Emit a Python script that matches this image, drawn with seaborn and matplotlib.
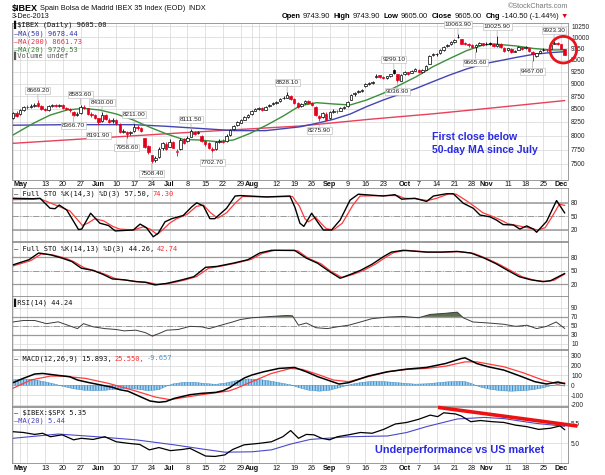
import numpy as np
import pandas as pd
import seaborn as sns
import matplotlib.pyplot as plt
from matplotlib.patches import Ellipse

W, H = 605, 475

# trading days shown (Madrid closed on May 1)
days = pd.bdate_range('2013-04-29', '2013-12-03')
days = days[days != pd.Timestamp('2013-05-01')]

# daily candles, one row per week
opens = [8330, 8420, 8400, 8470,
         8540, 8530, 8560, 8620, 8560,
         8500, 8470, 8550, 8580, 8560,
         8570, 8510, 8490, 8440, 8390,
         8420, 8540, 8510, 8400, 8380,
         8320, 8260, 8380, 8290, 8260,
         8290, 8220, 8070, 8060, 8040,
         8080, 8150, 8140, 7950, 7810,
         7650, 7560, 7620, 7770, 7850,
         7800, 7880, 7700, 7760, 7930,
         7900, 7980, 8070, 8050, 8000,
         7900, 7860, 7760, 7760, 7880,
         7900, 7900, 8010, 8120, 8190,
         8240, 8290, 8340, 8400, 8460,
         8500, 8510, 8480, 8550, 8590,
         8620, 8650, 8710, 8720, 8760,
         8700, 8620, 8560, 8610, 8660,
         8610, 8540, 8360, 8340, 8410,
         8330, 8440, 8460, 8460, 8510,
         8560, 8680, 8790, 8840, 8860,
         8960, 9000, 9010, 9140, 9170,
         9130, 9110, 9150, 9280, 9200,
         9060, 9200, 9240, 9230, 9270,
         9290, 9250, 9290, 9420, 9600,
         9620, 9640, 9720, 9800, 9840,
         9890, 10010, 9960, 9880, 9860,
         9830, 9780, 9830, 9870, 9850,
         9870, 9840, 9810, 9860, 9760,
         9720, 9740, 9680, 9720, 9780,
         9760, 9770, 9680, 9580, 9650,
         9710, 9720, 9740, 9850, 9880,
         9850, 9743.9]
highs = [8440, 8450, 8490, 8560,
         8580, 8590, 8610, 8669.2, 8580,
         8520, 8570, 8600, 8600, 8590,
         8590, 8540, 8520, 8450, 8440,
         8583.6, 8570, 8520, 8430, 8410,
         8330, 8430, 8400, 8320, 8320,
         8310, 8230, 8120, 8090, 8090,
         8211, 8190, 8160, 7960, 7830,
         7660, 7640, 7790, 7890, 7880,
         7930, 7900, 7760, 7950, 7950,
         7990, 8111.5, 8080, 8090, 8010,
         7920, 7880, 7790, 7900, 7930,
         7930, 8020, 8120, 8200, 8270,
         8300, 8360, 8410, 8480, 8520,
         8540, 8530, 8560, 8600, 8640,
         8660, 8720, 8760, 8828.1, 8770,
         8720, 8640, 8620, 8680, 8680,
         8630, 8550, 8380, 8440, 8430,
         8450, 8490, 8480, 8530, 8560,
         8650, 8800, 8840, 8880, 8900,
         9010, 9040, 9060, 9190, 9180,
         9160, 9160, 9210, 9299.1, 9210,
         9190, 9260, 9250, 9290, 9320,
         9310, 9310, 9390, 9600, 9650,
         9660, 9740, 9810, 9850, 9910,
         9970, 10063.9, 9970, 9900, 9880,
         9850, 9840, 9900, 9880, 9890,
         9900, 9870, 10025.9, 9870, 9780,
         9770, 9750, 9720, 9800, 9790,
         9810, 9780, 9690, 9660, 9720,
         9750, 9740, 9850, 9923.3, 9890,
         9860, 9743.9]
lows = [8300, 8340, 8380, 8450,
        8500, 8510, 8540, 8540, 8480,
        8450, 8460, 8530, 8530, 8540,
        8490, 8470, 8440, 8366.7, 8370,
        8410, 8490, 8390, 8350, 8300,
        8191.9, 8250, 8280, 8230, 8240,
        8200, 8040, 8040, 7958.6, 8010,
        8070, 8110, 8060, 7780, 7670,
        7508.4, 7540, 7600, 7750, 7740,
        7790, 7770, 7640, 7740, 7840,
        7880, 7970, 8010, 8030, 7880,
        7820, 7760, 7702.7, 7740, 7860,
        7860, 7890, 7990, 8100, 8180,
        8230, 8280, 8330, 8390, 8450,
        8480, 8450, 8470, 8540, 8580,
        8600, 8640, 8690, 8710, 8680,
        8600, 8520, 8540, 8600, 8590,
        8560, 8360, 8275.9, 8330, 8280,
        8310, 8420, 8420, 8450, 8490,
        8530, 8670, 8750, 8820, 8840,
        8940, 8970, 8990, 9120, 9110,
        9090, 9090, 9140, 9210, 9036.9,
        9050, 9180, 9180, 9220, 9260,
        9230, 9230, 9280, 9410, 9590,
        9590, 9620, 9700, 9780, 9820,
        9870, 9980, 9840, 9820, 9790,
        9760, 9665.6, 9820, 9810, 9820,
        9830, 9780, 9790, 9760, 9680,
        9700, 9660, 9670, 9710, 9720,
        9740, 9680, 9467, 9560, 9640,
        9690, 9680, 9730, 9840, 9830,
        9730, 9605]
closes = [8420, 8370, 8470, 8540,
          8530, 8560, 8580, 8560, 8500,
          8470, 8550, 8580, 8560, 8570,
          8510, 8490, 8480, 8390, 8400,
          8540, 8520, 8400, 8380, 8320,
          8250, 8390, 8300, 8250, 8290,
          8230, 8060, 8090, 8020, 8060,
          8150, 8140, 8080, 7800, 7700,
          7553, 7600, 7760, 7860, 7762,
          7890, 7780, 7730, 7920, 7860,
          7960, 8080, 8030, 8060, 7900,
          7840, 7780, 7740, 7880, 7900,
          7880, 8000, 8100, 8180, 8250,
          8280, 8340, 8380, 8460, 8500,
          8520, 8470, 8540, 8580, 8620,
          8640, 8700, 8720, 8780, 8700,
          8620, 8540, 8600, 8650, 8620,
          8580, 8380, 8330, 8420, 8290,
          8430, 8460, 8450, 8510, 8530,
          8640, 8780, 8820, 8860, 8880,
          9000, 9010, 9040, 9160, 9130,
          9120, 9150, 9190, 9230, 9080,
          9170, 9240, 9200, 9270, 9300,
          9250, 9290, 9370, 9580, 9620,
          9630, 9720, 9790, 9830, 9890,
          9950, 10000, 9860, 9850, 9820,
          9790, 9820, 9880, 9830, 9860,
          9860, 9800, 9860, 9780, 9700,
          9750, 9680, 9700, 9780, 9740,
          9790, 9690, 9620, 9640, 9700,
          9720, 9710, 9830, 9880, 9850,
          9745.4, 9605]

# moving averages (day index, value)
ma50_x = [0, 15, 34, 43, 52.5, 62, 71, 80.6, 85.3, 90, 94.7, 99.3, 104, 108.7, 113.3, 118, 122.7, 127.4, 132.1, 136.8, 141.5, 146.2, 150.9, 155]
ma50_y = [8190, 8200, 8200, 8170, 8130, 8090, 8090, 8160, 8225, 8300, 8400, 8542, 8672, 8790, 8905, 9043, 9180, 9305, 9413, 9483, 9555, 9620, 9657, 9678.44]
ma200_x = [0, 25, 50, 80.6, 100, 118, 135, 155]
ma200_y = [7860, 7960, 8060, 8175, 8300, 8405, 8520, 8661.73]
ma20_x = [0, 5.7, 10.4, 15.1, 19.8, 24.4, 29.1, 33.8, 38.5, 43.2, 47.8, 52.5, 57.2, 61.9, 66.6, 71.3, 75.9, 80.6, 85.3, 90, 94.7, 99.3, 104, 108.7, 113.3, 118, 122.7, 127.4, 132.1, 134.9, 141.5, 146.2, 150.9, 155]
ma20_y = [8010, 8225, 8380, 8477, 8510, 8477, 8400, 8287, 8150, 8028, 7930, 7919, 7890, 7919, 8040, 8193, 8362, 8560, 8620, 8595, 8575, 8672, 8806, 8975, 9145, 9355, 9530, 9700, 9827, 9850, 9804, 9750, 9716, 9720.53]

# swing labels (day index, value, high/low)
swing_i = [7, 17, 19, 24, 25, 32, 34, 39, 50, 56, 77, 86, 107, 108, 125, 130, 136, 146, 152]
swing_v = [8669.2, 8366.7, 8583.6, 8191.9, 8430.0, 7958.6, 8211.0, 7508.4, 8111.5, 7702.7, 8828.1, 8275.9, 9299.1, 9036.9, 10063.9, 9665.6, 10025.9, 9467.0, 9923.3]
swing_hl = ['h', 'l', 'h', 'l', 'h', 'l', 'h', 'l', 'h', 'l', 'h', 'l', 'h', 'l', 'h', 'l', 'h', 'l', 'h']

# Full STO (14,3)
stok_x = [0, 5.7, 7.6, 10.4, 11.8, 13, 15.1, 18.4, 19.3, 21.8, 24.4, 26.8, 28.7, 33.8, 35.7, 37.5, 39.4, 40.8, 42.7, 44.6, 47.8, 50.2, 51.6, 53.5, 55.3, 56.7, 60, 62.4, 63.8, 71.3, 77.8, 79.2, 80.6, 81.7, 83.9, 85.8, 87.2, 89.5, 91.9, 94.7, 97, 104, 107.3, 109.2, 112.9, 116.2, 118.1, 121.8, 123.7, 126.5, 129.3, 131.2, 134, 135.8, 137.7, 140.6, 142.4, 144.3, 146.2, 147.1, 149.9, 152.7, 155]
stok_y = [90, 89, 90, 68, 67, 75, 64, 21, 22, 57, 35, 30, 18, 20, 33, 25, 5, 13, 38, 45, 52, 71, 80, 73, 45, 45, 68, 95, 96, 93, 95, 70, 35, 28, 57, 35, 20, 20, 42, 86, 99, 95, 98, 88, 90, 83, 95, 100, 100, 79, 68, 53, 49, 42, 32, 31, 22, 29, 22, 15, 39, 85, 57.5]
stod_x = [0, 5.7, 7.6, 11, 13.5, 16, 19.5, 21, 23, 25.5, 28, 30, 34, 36.5, 38.5, 40.5, 42, 44, 46, 49, 51.5, 53.5, 55.5, 57.5, 60, 62.5, 64.5, 71, 78.5, 80.5, 82, 83, 85, 86.5, 88, 90, 92.5, 95.5, 97.5, 104, 108, 110, 113, 116.5, 119, 122.5, 124.5, 127.5, 130, 132, 135, 137, 139, 141.5, 144, 147.5, 149.5, 151.5, 153.5, 155]
stod_y = [87, 88, 89, 78, 70, 62, 30, 35, 45, 40, 28, 22, 20, 27, 22, 10, 20, 35, 45, 55, 72, 75, 58, 46, 58, 80, 94, 93, 94, 72, 45, 38, 48, 35, 23, 20, 35, 75, 95, 96, 96, 90, 89, 85, 90, 100, 99, 84, 70, 58, 49, 42, 34, 30, 26, 20, 25, 50, 77, 74.3]

# Full STO (14,13)
slowk_x = [0, 4.5, 7.2, 10.5, 13.8, 16.5, 19.2, 22.5, 25.2, 27.9, 31.2, 34.5, 37.2, 39.9, 43.2, 47.5, 50.8, 54.1, 57.3, 61.7, 66, 69.3, 72.6, 79.1, 82.4, 85.6, 88.9, 91.9, 94.9, 97.6, 100.9, 104.1, 106.3, 109.6, 116.1, 120.5, 124.8, 128.6, 132.4, 135.7, 139, 142.2, 145.5, 148.8, 151, 154.2, 155]
slowk_y = [63.5, 75, 90, 86, 78.5, 71, 56, 51, 42.5, 32, 30, 26, 24.5, 18.5, 22, 30, 37, 58, 60, 67, 75, 90, 96, 96, 78.5, 67, 48.5, 33.5, 42.5, 51, 65, 82, 92, 96, 92, 92, 93.5, 90, 78.5, 66, 51, 37, 30, 26, 28, 41, 44.26]
slowd_x = [0, 5, 8, 11, 14.5, 17, 20, 23, 26, 29, 32, 35, 38, 40.5, 44, 48, 51.5, 55, 58, 62.5, 67, 70, 73.5, 80, 83, 86.5, 89.5, 92.5, 95.5, 98.5, 102, 105, 107, 110.5, 117, 121, 125.5, 129.5, 133, 136.5, 140, 143, 146.5, 149.5, 152, 155]
slowd_y = [61, 73, 88, 86, 79, 71, 57, 50, 42, 32, 29, 26, 24, 20, 22, 29, 37, 56, 60, 67, 76, 89, 96, 95, 78, 66, 48, 35, 42, 51, 66, 82, 91, 96, 92, 92, 93, 89, 78, 65, 50, 37, 29, 26, 29, 42.74]

# RSI(14)
rsi_x = [0, 2.9, 6.1, 9.4, 12.7, 15.4, 18.1, 19.8, 22.5, 25.8, 29, 31.2, 34.5, 37.2, 39.1, 41, 43.2, 46.4, 49.7, 53, 55.1, 58.4, 61.7, 63.8, 67.1, 72.6, 76.9, 78.5, 80.2, 82.4, 85.1, 88.3, 91.1, 94.3, 97.6, 100.8, 105.2, 109.6, 113.9, 117.2, 121.5, 124.8, 126.5, 129.2, 133.5, 137.9, 141.2, 144.4, 147.1, 149.9, 152.6, 155]
rsi_y = [58.7, 62, 62, 55, 59, 51.5, 44, 55, 48, 44, 42, 39, 40.5, 35, 27.5, 33, 40.5, 42, 49, 48, 44, 51.5, 58.7, 64, 68, 71, 73, 72.5, 51.5, 56.5, 46, 44, 48, 51.5, 58.7, 66, 69.6, 71, 68, 75.5, 78, 80.5, 68, 58.7, 56.5, 53.6, 49, 51.5, 44, 49, 58.7, 44.24]

# MACD(12,26,9)
macd_x = [0, 2.9, 6.1, 8.3, 12.7, 15.9, 18.1, 21.4, 24.7, 27.9, 30, 32.3, 36, 38.5, 41, 43, 45.3, 49.7, 53, 57, 59, 61, 63, 65, 67.1, 70.4, 74.7, 79.1, 82.4, 85.6, 88.9, 91.6, 94.3, 99.8, 105.2, 110.6, 116.1, 121.5, 125.9, 127, 130.3, 133.5, 137.9, 142.2, 146.6, 149.9, 153.1, 155]
macd_y = [27, 71, 115, 121, 101, 88, 54, 27, 3, -20, -45, -60, -120, -160, -173, -165, -133, -96, -82, -72, -55, -20, 30, 75, 105, 138, 172, 182, 138, 88, 47, 13, 27, 94, 138, 165, 182, 222, 273, 280, 222, 189, 155, 98, 37, 13, 34, 15.893]
sig_x = [0, 5, 10.5, 13.8, 20.3, 26.8, 33.4, 36, 40, 44.2, 48.6, 55.1, 60.6, 62.8, 67.1, 72.6, 78, 81.3, 85.6, 90, 94.3, 99.8, 105.2, 110.6, 116.1, 121.5, 127, 130.3, 137.9, 143.3, 148.8, 153.1, 155]
sig_y = [-30, 54, 94, 94, 71, 20, -47, -75, -120, -147, -120, -85, -58, -30, 37, 121, 172, 162, 111, 54, 37, 88, 138, 162, 172, 195, 239, 239, 189, 128, 54, 13, 25.55]
hist_x = [0, 3, 6, 9, 12, 14, 17, 20, 23, 26, 29, 32, 35, 38, 41, 43, 45, 48, 51, 54, 57, 60, 63, 66, 69, 72, 75, 78, 80, 83, 86, 89, 92, 95, 98, 101, 104, 107, 110, 113, 116, 119, 122, 125, 127, 129, 131, 134, 137, 140, 143, 146, 149, 151, 153, 155]
hist_y = [55, 65, 55, 35, 10, -10, -35, -50, -55, -50, -40, -30, -40, -55, -45, -10, 15, 30, 30, 18, 10, 25, 50, 65, 60, 45, 25, 5, -20, -50, -60, -50, -20, 10, 30, 40, 38, 30, 20, 12, 15, 25, 35, 40, 38, 15, -15, -40, -55, -60, -55, -45, -25, -5, 8, -9.657]

# $IBEX:$SPX ratio and its MA(20)
ratio_x = [0, 2.9, 6.1, 8.3, 10.5, 13.8, 17, 19.2, 22.5, 25.8, 29, 32.3, 35.6, 38.3, 41, 44.2, 47.5, 49.7, 51.9, 54.1, 56.8, 59.5, 61.7, 64.9, 69.3, 72.6, 75.8, 78, 80.2, 82.4, 84.5, 86.7, 88.9, 91.1, 94.3, 97.6, 100.9, 104.1, 107.4, 110.6, 113.9, 117.2, 119.3, 121, 124.3, 125.9, 128.6, 131.3, 134.6, 137.9, 141.2, 144.4, 147.7, 151, 153.7, 155]
ratio_y = [5.30, 5.28, 5.23, 5.26, 5.17, 5.22, 5.09, 5.13, 5.10, 5.17, 5.04, 5.00, 4.97, 4.83, 4.89, 4.81, 4.84, 4.87, 4.77, 4.67, 4.66, 4.70, 4.84, 4.96, 5.00, 5.04, 5.17, 5.33, 5.13, 5.23, 5.22, 5.13, 5.09, 5.17, 5.22, 5.28, 5.26, 5.36, 5.50, 5.54, 5.62, 5.73, 5.69, 5.79, 5.76, 5.71, 5.56, 5.59, 5.56, 5.54, 5.47, 5.43, 5.36, 5.39, 5.45, 5.35]
rma_x = [0, 12.7, 23.6, 34.5, 45.3, 54.1, 59.5, 67.1, 72.6, 78, 83.5, 94.3, 105.2, 110.6, 116.1, 124.8, 132.4, 137.9, 146.6, 155]
rma_y = [5.13, 5.24, 5.17, 5.09, 4.96, 4.84, 4.77, 4.78, 4.83, 4.98, 5.10, 5.17, 5.19, 5.28, 5.43, 5.63, 5.67, 5.64, 5.52, 5.44]
trend_x = [119.4, 158.6]
trend_y = [5.93, 5.447]

# date axis
tick_dates = ['2013-05-02', '2013-05-13', '2013-05-20', '2013-05-27', '2013-06-03', '2013-06-10',
              '2013-06-17', '2013-06-24', '2013-07-01', '2013-07-08', '2013-07-15', '2013-07-22',
              '2013-07-29', '2013-08-01', '2013-08-12', '2013-08-19', '2013-08-26', '2013-09-02',
              '2013-09-09', '2013-09-16', '2013-09-23', '2013-10-01', '2013-10-07', '2013-10-14',
              '2013-10-21', '2013-10-28', '2013-11-01', '2013-11-11', '2013-11-18', '2013-11-25',
              '2013-12-02']
tick_labels = ['May', '13', '20', '27', 'Jun', '10', '17', '24', 'Jul', '8', '15', '22', '29', 'Aug',
               '12', '19', '26', 'Sep', '9', '16', '23', 'Oct', '7', '14', '21', '28', 'Nov', '11',
               '18', '25', 'Dec']
months = ['May', 'Jun', 'Jul', 'Aug', 'Sep', 'Oct', 'Nov', 'Dec']

sns.set_style('white')
plt.rcParams['font.family'] = ['Liberation Sans', 'DejaVu Sans']
plt.rcParams['hatch.linewidth'] = 0.7

fig = plt.figure(figsize=(W / 100, H / 100), dpi=100)
X0, X1 = 11.7, 568.3
GRID = '#d6d6d6'
MONO = 'DejaVu Sans Mono'

tick_idx = [days.get_loc(pd.Timestamp(d)) for d in tick_dates]
mondays = list(np.where(days.dayofweek == 0)[0])
firsts = list(pd.Series(np.arange(len(days)), index=days).groupby(days.month).first().values)
vgrid = sorted(set(mondays + firsts))


def panel(top, bottom, ylim, yticks, ylabels, log=False):
    ax = fig.add_axes([X0 / W, 1 - bottom / H, (X1 - X0) / W, (bottom - top) / H])
    if log:
        ax.set_yscale('log')
    ax.set_xlim(-0.37, 156.0)
    ax.set_ylim(*ylim)
    for g in vgrid:
        ax.axvline(g, color=GRID, lw=0.5, zorder=0)
    for t in yticks:
        ax.axhline(t, color=GRID, lw=0.5, zorder=0)
    ax.yaxis.tick_right()
    ax.set_yticks(yticks)
    ax.set_yticklabels(ylabels)
    ax.yaxis.set_minor_locator(plt.NullLocator())
    ax.tick_params(axis='y', length=0, pad=2, labelsize=4.7, labelcolor='#222222')
    ax.set_xticks([])
    for s in ax.spines.values():
        s.set_color('#8a8a8a')
        s.set_linewidth(0.6)
    return ax


def date_axis(ax):
    ax.set_xticks(tick_idx)
    ax.set_xticklabels(tick_labels)
    ax.tick_params(axis='x', length=0, pad=1.2, labelsize=5.2, labelcolor='#111111')
    for lab in ax.get_xticklabels():
        if lab.get_text() in months:
            lab.set_fontweight('bold')


def run_text(x, y, parts, size, family=None, ha='left'):
    r = fig.canvas.get_renderer()
    arts, widths = [], []
    for s, c, w, gap in parts:
        t = fig.text(0, 1 - y / H, s, color=c, fontsize=size, fontweight=w,
                     family=family, va='center', ha='left', parse_math=False)
        arts.append(t)
        widths.append(t.get_window_extent(r).width + gap)
    if ha == 'right':
        x = x - sum(widths)
    for t, wd in zip(arts, widths):
        t.set_x(x / W)
        x += wd


# ---- price panel ----
price_ticks = list(range(7500, 10251, 250))
ax = panel(22.7, 179.5, (7240, 10337), price_ticks, [str(p) for p in price_ticks], log=True)
idx = np.arange(len(closes))
o, h, l, c = map(np.array, (opens, highs, lows, closes))
prev = np.r_[o[0], c[:-1]]
col = np.where(c < prev, '#e3001b', '#000000')
face = np.where(c < o, col, '#ffffff')
ax.vlines(idx, l, h, colors=col, lw=0.6, zorder=3)
ax.bar(idx, np.maximum(np.abs(c - o), 4), bottom=np.minimum(o, c), width=0.7,
       color=face, edgecolor=col, linewidth=0.5, zorder=4)
sns.lineplot(x=ma200_x, y=ma200_y, ax=ax, color='#e8415a', lw=1.0, zorder=2)
sns.lineplot(x=ma50_x, y=ma50_y, ax=ax, color='#4444b4', lw=1.0, zorder=2)
sns.lineplot(x=ma20_x, y=ma20_y, ax=ax, color='#3a8f3a', lw=1.0, zorder=2)
for si, sv, hl in zip(swing_i, swing_v, swing_hl):
    off = 10 if hl == 'h' else -10
    ax.annotate(f'{sv:.2f}', (si, sv), xytext=(0, off), textcoords='offset pixels',
                ha='center', va='center', fontsize=4.6, color='#222222',
                bbox=dict(boxstyle='square,pad=0.15', fc='white', ec='#b5b5b5', lw=0.4),
                arrowprops=dict(arrowstyle='-', color='#999999', lw=0.4, shrinkA=0, shrinkB=0),
                zorder=6)
ax.set_ylabel('')
ax.set_xlabel('')
date_axis(ax)
ax.text(0.756, 0.27, 'First close below', transform=ax.transAxes, color='#2a2ae6',
        fontsize=7.6, fontweight='bold', ha='left', va='center')
ax.text(0.756, 0.185, '50-day MA since July', transform=ax.transAxes, color='#2a2ae6',
        fontsize=7.6, fontweight='bold', ha='left', va='center')
fig.add_artist(Ellipse((563.3 / W, 1 - 49.7 / H), 26.6 / W, 26.6 / H, fill=False,
                       ec='#e8141e', lw=2.0))

# ---- STO 14,3 ----
ax1 = panel(188, 241, (-4.3, 112.7), [20, 50, 80], ['20', '50', '80'])
for v in (20, 80):
    ax1.axhline(v, color='#9a9a9a', lw=1.1, zorder=1)
ax1.axhline(50, color='#9a9a9a', lw=0.7, ls='-.', zorder=1)
sns.lineplot(x=stod_x, y=stod_y, ax=ax1, color='#ff3b3b', lw=0.9)
sns.lineplot(x=stok_x, y=stok_y, ax=ax1, color='#000000', lw=1.0)

# ---- STO 14,13 ----
ax2 = panel(242, 296, (-6.2, 114.6), [20, 50, 80], ['20', '50', '80'])
for v in (20, 80):
    ax2.axhline(v, color='#9a9a9a', lw=0.9, zorder=1)
ax2.axhline(50, color='#9a9a9a', lw=0.7, ls='-.', zorder=1)
sns.lineplot(x=slowd_x, y=slowd_y, ax=ax2, color='#ff3b3b', lw=0.9)
sns.lineplot(x=slowk_x, y=slowk_y, ax=ax2, color='#000000', lw=1.0)

# ---- RSI ----
ax3 = panel(296, 349, (-1.3, 116.4), [10, 30, 50, 70, 90], ['10', '30', '50', '70', '90'])
for v in (30, 70):
    ax3.axhline(v, color='#9a9a9a', lw=0.9, zorder=1)
ax3.axhline(50, color='#9a9a9a', lw=0.7, ls='-.', zorder=1)
rx, ry = np.array(rsi_x), np.array(rsi_y)
ax3.fill_between(rx, 70, ry, where=ry > 70, interpolate=True, color='#5e6f52', lw=0)
ax3.fill_between(rx, 30, ry, where=ry < 30, interpolate=True, color='#d23b3b', lw=0)
sns.lineplot(x=rsi_x, y=rsi_y, ax=ax3, color='#3c3c3c', lw=0.7)

# ---- MACD ----
ax4 = panel(350, 406, (-211, 360), [-200, -100, 0, 100, 200, 300],
            ['-200', '-100', '0', '100', '200', '300'])
ax4.fill_between(hist_x, 0, hist_y, facecolor='#a8d2ee', edgecolor='#3b8cc8',
                 hatch='||||||', lw=0.3, zorder=1)
sns.lineplot(x=sig_x, y=sig_y, ax=ax4, color='#ff3b3b', lw=0.9)
sns.lineplot(x=macd_x, y=macd_y, ax=ax4, color='#000000', lw=1.1)

# ---- ratio vs SPX ----
ax5 = panel(407, 463, (4.49, 5.94), [5.0, 5.5], ['5.0', '5.5'])
sns.lineplot(x=rma_x, y=rma_y, ax=ax5, color='#4a4acb', lw=0.8)
sns.lineplot(x=ratio_x, y=ratio_y, ax=ax5, color='#000000', lw=0.9)
ax5.plot(trend_x, trend_y, color='#ee1111', lw=2.6, solid_capstyle='butt', clip_on=False, zorder=7)
date_axis(ax5)
ax5.text(0.653, 0.23, 'Underperformance vs US market', transform=ax5.transAxes,
         color='#2a2ae6', fontsize=7.8, fontweight='bold', ha='left', va='center')

# ---- header and legends ----
run_text(11.5, 8, [('$IBEX', '#000000', 'bold', 3)], 6.5)
run_text(40, 8, [('Spain Bolsa de Madrid IBEX 35 Index (EOD)', '#111111', 'normal', 3),
                 ('INDX', '#111111', 'normal', 0)], 5.3)
fig.text(12 / W, 1 - 16 / H, '3-Dec-2013', fontsize=5.2, va='center', color='#111111')
fig.text(568 / W, 1 - 7 / H, '\u00a9StockCharts.com', fontsize=5.2, va='center', ha='right', color='#777777')
run_text(568, 16, [('Open', '#000000', 'bold', 2), ('9743.90', '#111111', 'normal', 4),
                   ('High', '#000000', 'bold', 2), ('9743.90', '#111111', 'normal', 4),
                   ('Low', '#000000', 'bold', 2), ('9605.00', '#111111', 'normal', 4),
                   ('Close', '#000000', 'bold', 2), ('9605.00', '#111111', 'normal', 4),
                   ('Chg', '#000000', 'bold', 2), ('-140.50 (-1.44%)', '#111111', 'normal', 2),
                   ('\u25bc', '#e3001b', 'normal', 0)], 5.4, ha='right')

run_text(13.5, 25.3, [('\u258c$IBEX (Daily) 9605.00', '#111111', 'normal', 0)], 5.0, MONO)
run_text(13.5, 33.3, [('\u2014MA(50) 9678.44', '#3434a8', 'normal', 0)], 5.0, MONO)
run_text(13.5, 41.3, [('\u2014MA(200) 8661.73', '#e0334c', 'normal', 0)], 5.0, MONO)
run_text(13.5, 49.3, [('\u2014MA(20) 9720.53', '#2f862f', 'normal', 0)], 5.0, MONO)
run_text(13.5, 56.3, [('\u258cVolume undef', '#555555', 'normal', 0)], 5.0, MONO)

run_text(13.5, 194, [('\u2014 Full STO %K(14,3) %D(3) 57.50,', '#111111', 'normal', 3),
                     ('74.30', '#ff2a2a', 'normal', 0)], 5.0, MONO)
run_text(13.5, 249, [('\u2014 Full STO %K(14,13) %D(3) 44.26,', '#111111', 'normal', 3),
                     ('42.74', '#ff2a2a', 'normal', 0)], 5.0, MONO)
run_text(13.5, 303.3, [('\u258cRSI(14) 44.24', '#111111', 'normal', 0)], 5.0, MONO)
run_text(13.5, 358.5, [('\u2014 MACD(12,26,9) 15.893,', '#111111', 'normal', 3),
                       ('25.550,', '#ff2a2a', 'normal', 3),
                       ('-9.657', '#3a9ad8', 'normal', 0)], 5.0, MONO)
run_text(13.5, 412.7, [('\u2014 $IBEX:$SPX 5.35', '#111111', 'normal', 0)], 5.0, MONO)
run_text(13.5, 420.3, [('\u2014MA(20) 5.44', '#4040c0', 'normal', 0)], 5.0, MONO)

fig.savefig('out.png', dpi=100)
